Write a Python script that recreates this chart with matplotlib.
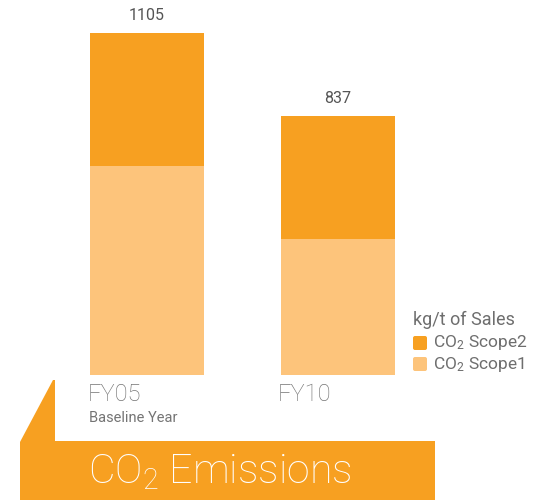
import matplotlib
matplotlib.use("Agg")
import matplotlib.pyplot as plt
from matplotlib.patches import Polygon, FancyBboxPatch

plt.rcParams['font.family'] = ['Roboto', 'DejaVu Sans']
plt.rcParams['mathtext.default'] = 'regular'

categories = ["FY05", "FY10"]
sublabels = ["Baseline Year", ""]
scope1 = [675, 440]
scope2 = [430, 397]
totals = [1105, 837]
series_names = ["CO$_2$ Scope2", "CO$_2$ Scope1"]
unit_label = "kg/t of Sales"
title = "CO$_2$ Emissions"

c_scope2 = "#F7A021"
c_scope1 = "#FDC47B"
c_text = "#6E6E6E"

W, H = 545, 500
fig = plt.figure(figsize=(W / 100, H / 100), dpi=100)

# decoration overlay in pixel coords
deco = fig.add_axes([0, 0, 1, 1])
deco.set_xlim(0, W)
deco.set_ylim(H, 0)
deco.axis("off")

# bar axes
ax = fig.add_axes([0, 0.25, 1, 0.75])
ax.set_xlim(-0.772, 2.089)
ax.set_ylim(0, 375 / 0.3095)
ax.axis("off")
ax.patch.set_alpha(0)

x = list(range(len(categories)))
width = 0.598
ax.bar(x, scope1, width=width, color=c_scope1, linewidth=0)
ax.bar(x, scope2, width=width, bottom=scope1, color=c_scope2, linewidth=0)
for xi, t in zip(x, totals):
    ax.annotate(str(t), (xi, t), xytext=(0, 7), textcoords="offset points",
                ha="center", va="bottom", fontsize=11.5, color="#555555")

# category labels
for xi, cat, sub in zip(x, categories, sublabels):
    ax.annotate(cat, (xi - width / 2, 0), xytext=(-2, -6), textcoords="offset points",
                ha="left", va="top", fontsize=17, color="#747474", fontweight="light",
                annotation_clip=False)
    if sub:
        ax.annotate(sub, (xi - width / 2, 0), xytext=(-1, -26), textcoords="offset points",
                    ha="left", va="top", fontsize=10.5, color="#747474",
                    annotation_clip=False)

# legend
deco.text(413, 320, unit_label, ha="left", va="center", fontsize=13, color=c_text)
for i, (name, col) in enumerate(zip(series_names, [c_scope2, c_scope1])):
    y0 = 336 + i * 21
    deco.add_patch(FancyBboxPatch((413, y0), 14, 14, boxstyle="round,pad=0,rounding_size=2",
                                  facecolor=col, edgecolor="none"))
    deco.text(433, y0 + 7, name, ha="left", va="center", fontsize=12.5, color=c_text)

# banner
poly = Polygon([(20, 500), (20, 442), (53, 380), (55, 380), (55, 441),
                (435, 441), (435, 500)], closed=True, facecolor=c_scope2, edgecolor="none")
deco.add_patch(poly)
deco.text(88, 472, title, ha="left", va="center", fontsize=29.5, color="white",
          fontweight="light")

fig.savefig("out.png", dpi=100)
